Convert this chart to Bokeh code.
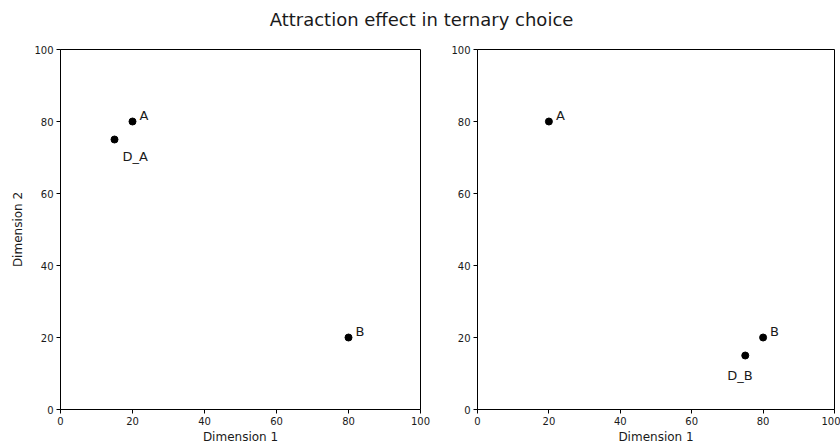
from bokeh.plotting import figure
from bokeh.layouts import column, row
from bokeh.models import Label, FixedTicker, ColumnDataSource
from bokeh.embed import file_html
from bokeh.resources import INLINE
from bokeh.core.properties import value

title_text = "Attraction effect in ternary choice"
x_label = "Dimension 1"
y_label = "Dimension 2"
ticks = [0, 20, 40, 60, 80, 100]

# left panel: decoy near A
left_names = ["A", "B", "D_A"]
left_x = [20, 80, 15]
left_y = [80, 20, 75]

# right panel: decoy near B
right_names = ["A", "B", "D_B"]
right_x = [20, 80, 75]
right_y = [80, 20, 15]

FONT = "DejaVu Sans"
TXT = "#1a1a1a"

# title strip
pt = figure(width=840, height=40, x_range=(0, 1), y_range=(0, 1),
            output_backend="svg", toolbar_location=None,
            min_border=0, min_border_left=0, min_border_right=0,
            min_border_top=0, min_border_bottom=0)
pt.axis.visible = False
pt.grid.visible = False
pt.outline_line_color = None
pt.add_layout(Label(x=421, y=21, x_units="screen", y_units="screen",
                    text=title_text, text_align="center", text_baseline="middle",
                    text_font=FONT, text_font_size="18px", text_color=TXT))

# pixel offsets for point labels (dx, dy), screen y grows downward
label_offsets = {"A": (7, -6), "B": (7, -6), "D_A": (8, 17), "D_B": (-18, 20)}


def make_panel(names, xs, ys, width, bl, br, ylab):
    p = figure(width=width, height=406, x_range=(0, 100), y_range=(0, 100),
               output_backend="svg", toolbar_location=None,
               min_border_left=bl, min_border_right=br,
               min_border_top=9, min_border_bottom=36)
    p.grid.visible = False
    p.outline_line_color = "black"
    p.outline_line_width = 1
    for ax in (p.xaxis[0], p.yaxis[0]):
        ax.ticker = FixedTicker(ticks=ticks)
        ax.minor_tick_line_color = None
        ax.major_tick_in = 0
        ax.major_tick_out = 4
        ax.major_tick_line_color = "black"
        ax.axis_line_color = "black"
        ax.major_label_text_font = FONT
        ax.major_label_text_font_size = "10px"
        ax.major_label_text_color = TXT
        ax.major_label_standoff = 3
        ax.axis_label_text_font = FONT
        ax.axis_label_text_font_size = "12px"
        ax.axis_label_text_font_style = "normal"
        ax.axis_label_text_color = TXT
        ax.axis_label_standoff = 2
    p.xaxis.axis_label = x_label
    if ylab:
        p.yaxis.axis_label = y_label
        p.yaxis.axis_label_standoff = 6
    p.yaxis.major_label_orientation = "horizontal"

    src = ColumnDataSource(dict(x=xs, y=ys))
    p.scatter("x", "y", source=src, size=7, color="black")
    dx = [label_offsets[n][0] for n in names]
    dy = [label_offsets[n][1] for n in names]
    src2 = ColumnDataSource(dict(x=xs, y=ys, name=names, dx=dx, dy=dy))
    p.text("x", "y", text="name", source=src2, x_offset="dx", y_offset="dy",
           text_font=value(FONT), text_font_size="13px", text_color=TXT,
           text_baseline="alphabetic", text_align="left")
    return p


p1 = make_panel(left_names, left_x, left_y, 448, 60, 28, True)
p2 = make_panel(right_names, right_x, right_y, 392, 26, 6, False)

layout = column(pt, row(p1, p2))
open("out.html", "w").write(file_html(layout, INLINE))
